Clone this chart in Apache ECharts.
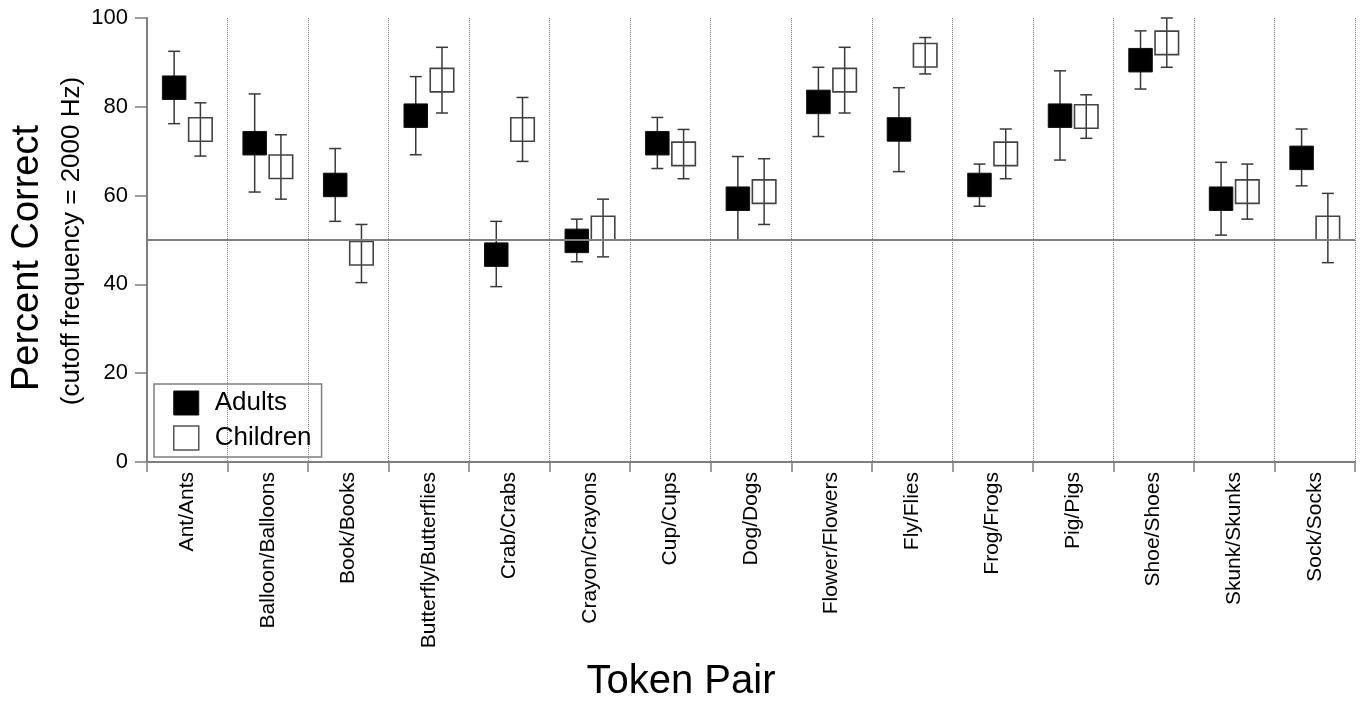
<!DOCTYPE html>
<html>
<head>
<meta charset="utf-8">
<script src="https://cdn.jsdelivr.net/npm/echarts@6/dist/echarts.min.js"></script>
<style>
html,body{margin:0;padding:0;background:#fff;}
#chart{width:1363px;height:706px;}
</style>
</head>
<body>
<div id="chart"></div>
<script>
const categories = ['Ant/Ants','Balloon/Balloons','Book/Books','Butterfly/Butterflies','Crab/Crabs','Crayon/Crayons','Cup/Cups','Dog/Dogs','Flower/Flowers','Fly/Flies','Frog/Frogs','Pig/Pigs','Shoe/Shoes','Skunk/Skunks','Sock/Socks'];
const adultsMean = [84.3, 71.8, 62.4, 78.0, 46.7, 49.8, 71.8, 59.3, 81.1, 74.9, 62.4, 78.0, 90.5, 59.3, 68.5];
const adultsHigh = [92.5, 82.9, 70.6, 86.8, 54.2, 54.7, 77.6, 68.8, 88.9, 84.3, 67.1, 88.1, 97.1, 67.5, 75.0];
const adultsLow  = [76.2, 60.8, 54.2, 69.2, 39.5, 45.1, 66.1, 50.0, 73.3, 65.4, 57.6, 68.0, 84.0, 51.1, 62.2];
const childrenMean = [74.9, 66.5, 47.0, 86.0, 74.9, 52.7, 69.4, 60.9, 86.0, 91.6, 69.4, 77.8, 94.4, 60.9, 52.7];
const childrenHigh = [80.9, 73.7, 53.5, 93.4, 82.1, 59.2, 74.9, 68.3, 93.4, 95.6, 75.0, 82.7, 100.0, 67.1, 60.5];
const childrenLow  = [68.9, 59.2, 40.4, 78.6, 67.7, 46.2, 63.8, 53.5, 78.6, 87.4, 63.8, 72.9, 88.9, 54.7, 44.9];
const yTicks = [0, 20, 40, 60, 80, 100];
const chanceLevel = 50;

const FONT = "'Liberation Sans', Arial, Helvetica, sans-serif";
const AXIS_GRAY = '#7f7f7f';

function build(mean, low, high) {
  return mean.map((m, i) => [i, m, low[i], high[i]]);
}

function makeRender(isAdult) {
  return function (params, api) {
    const c = api.value(0), m = api.value(1), lo = api.value(2), hi = api.value(3);
    const band = api.size([1, 0])[0];
    const off = (isAdult ? -1 : 1) * band * 0.163;
    const pm = api.coord([c, m]);
    const pl = api.coord([c, lo]);
    const ph = api.coord([c, hi]);
    const x = pm[0] + off;
    const cap = 6;
    const box = 23.5;
    const barStyle = { stroke: '#3a3a3a', lineWidth: 1.5 };
    return {
      type: 'group',
      children: [
        { type: 'line', shape: { x1: x, y1: ph[1], x2: x, y2: pl[1] }, style: barStyle },
        { type: 'line', shape: { x1: x - cap, y1: ph[1], x2: x + cap, y2: ph[1] }, style: barStyle },
        { type: 'line', shape: { x1: x - cap, y1: pl[1], x2: x + cap, y2: pl[1] }, style: barStyle },
        {
          type: 'rect',
          shape: { x: x - box / 2, y: pm[1] - box / 2, width: box, height: box },
          style: isAdult
            ? { fill: '#000', stroke: '#111', lineWidth: 1 }
            : { fill: 'rgba(0,0,0,0)', stroke: '#444', lineWidth: 1.6 }
        }
      ]
    };
  };
}

const chart = echarts.init(document.getElementById('chart'), null, { renderer: 'canvas' });
chart.setOption({
  animation: false,
  backgroundColor: '#fff',
  textStyle: { fontFamily: FONT },
  grid: { left: 147, right: 8, top: 18, bottom: 244, containLabel: false },
  legend: {
    orient: 'vertical',
    left: 154,
    top: 384,
    padding: [6, 10, 6, 19],
    itemGap: 9,
    itemWidth: 25,
    itemHeight: 24,
    borderColor: AXIS_GRAY,
    borderWidth: 1.5,
    textStyle: { fontSize: 26, color: '#000', fontFamily: FONT, lineHeight: 24, padding: [0, 0, 0, 11] },
    data: [
      { name: 'Adults', icon: 'rect', itemStyle: { color: '#000', borderColor: '#111', borderWidth: 1 } },
      { name: 'Children', icon: 'rect', itemStyle: { color: '#fff', borderColor: '#555', borderWidth: 1.5 } }
    ]
  },
  xAxis: {
    type: 'category',
    data: categories,
    boundaryGap: true,
    axisLine: { show: true, lineStyle: { color: AXIS_GRAY, width: 2 } },
    axisTick: { show: true, length: 10, lineStyle: { color: AXIS_GRAY, width: 1.5 } },
    axisLabel: { rotate: 90, fontSize: 21, color: '#000', margin: 10, fontFamily: FONT, interval: 0 },
    splitLine: { show: true, interval: 0, lineStyle: { type: 'dotted', color: '#7a7a7a', width: 1 } }
  },
  yAxis: {
    type: 'value',
    min: yTicks[0],
    max: yTicks[yTicks.length - 1],
    interval: 20,
    axisLine: { show: true, lineStyle: { color: AXIS_GRAY, width: 2 } },
    axisTick: { show: true, length: 12, lineStyle: { color: AXIS_GRAY, width: 1.5 } },
    axisLabel: { fontSize: 22, color: '#000', margin: 19, fontFamily: FONT },
    splitLine: { show: false }
  },
  graphic: [
    {
      type: 'text', x: 28, y: 258, rotation: Math.PI / 2,
      style: { text: 'Percent Correct', font: '38px ' + FONT, fill: '#000', textAlign: 'center', textVerticalAlign: 'middle' }
    },
    {
      type: 'text', x: 72, y: 241, rotation: Math.PI / 2,
      style: { text: '(cutoff frequency = 2000 Hz)', font: '26px ' + FONT, fill: '#000', textAlign: 'center', textVerticalAlign: 'middle' }
    },
    {
      type: 'text', x: 681, y: 682,
      style: { text: 'Token Pair', font: '40px ' + FONT, fill: '#000', textAlign: 'center', textVerticalAlign: 'middle' }
    }
  ],
  series: [
    {
      name: 'Adults',
      type: 'custom',
      renderItem: makeRender(true),
      encode: { x: 0, y: 1 },
      itemStyle: { color: '#000' },
      data: build(adultsMean, adultsLow, adultsHigh),
      z: 3,
      markLine: {
        silent: true,
        symbol: 'none',
        label: { show: false },
        lineStyle: { color: AXIS_GRAY, width: 2, type: 'solid' },
        data: [{ yAxis: chanceLevel }]
      }
    },
    {
      name: 'Children',
      type: 'custom',
      renderItem: makeRender(false),
      encode: { x: 0, y: 1 },
      itemStyle: { color: '#fff' },
      data: build(childrenMean, childrenLow, childrenHigh),
      z: 4
    }
  ]
});
</script>
</body>
</html>
